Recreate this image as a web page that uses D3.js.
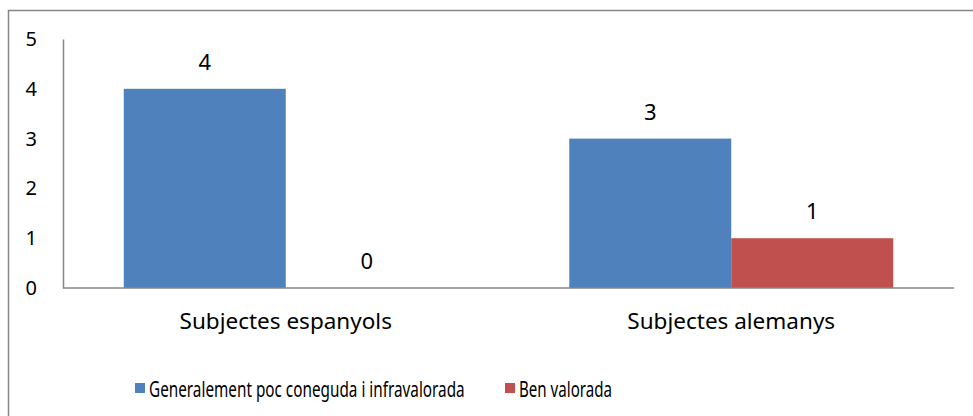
<!DOCTYPE html>
<html>
<head>
<meta charset="utf-8">
<script src="https://cdn.jsdelivr.net/npm/d3@7"></script>
<style>
  body { margin: 0; background: #fff; }
  text { font-family: "Noto Sans", "Open Sans", sans-serif; fill: #000; }
</style>
</head>
<body>
<svg id="chart"></svg>
<script>
const categories = ['Subjectes espanyols', 'Subjectes alemanys'];
const seriesNames = ['Generalement poc coneguda i infravalorada', 'Ben valorada'];
const poc = [4, 3];
const ben = [0, 1];
const yTicks = [0, 1, 2, 3, 4, 5];
const colors = ['#4f81bd', '#c0504d'];

const width = 973, height = 416;
const margin = {top: 39, right: 19, bottom: 128, left: 63};

const svg = d3.select('#chart')
    .attr('width', width)
    .attr('height', height);

// outer frame (runs off the right and bottom edge)
svg.append('rect')
    .attr('x', 8.5).attr('y', 10.5)
    .attr('width', 990).attr('height', 440)
    .attr('fill', 'none')
    .attr('stroke', '#868686')
    .attr('stroke-width', 1.5);

const x0 = d3.scaleBand()
    .domain(categories)
    .range([margin.left, width - margin.right])
    .paddingInner(0.2727)
    .paddingOuter(0.1364);

const x1 = d3.scaleBand()
    .domain(seriesNames)
    .range([0, x0.bandwidth()]);

const y = d3.scaleLinear()
    .domain([0, 5])
    .range([height - margin.bottom, margin.top]);

const rows = categories.map((c, i) => ({cat: c, vals: [poc[i], ben[i]]}));

const groups = svg.append('g').selectAll('g')
    .data(rows)
    .join('g')
    .attr('transform', d => `translate(${x0(d.cat)},0)`);

groups.selectAll('rect')
    .data(d => d.vals.map((v, j) => ({name: seriesNames[j], v: v, j: j})))
    .join('rect')
    .attr('x', d => x1(d.name))
    .attr('y', d => y(d.v))
    .attr('width', x1.bandwidth())
    .attr('height', d => y(0) - y(d.v))
    .attr('fill', d => colors[d.j]);

// value labels
groups.selectAll('text.lbl')
    .data(d => d.vals.map((v, j) => ({name: seriesNames[j], v: v})))
    .join('text')
    .attr('class', 'lbl')
    .attr('x', d => x1(d.name) + x1.bandwidth() / 2)
    .attr('y', d => y(d.v) - 19)
    .attr('text-anchor', 'middle')
    .style('font-size', '22px')
    .text(d => d.v);

// y axis
const yAxis = d3.axisLeft(y)
    .tickValues(yTicks)
    .tickFormat(d3.format('d'))
    .tickSize(0)
    .tickPadding(26);
const yAxisG = svg.append('g')
    .attr('transform', `translate(${margin.left},0)`)
    .call(yAxis);
yAxisG.select('.domain').attr('stroke', '#868686').attr('stroke-width', 1.5);
yAxisG.selectAll('text')
    .attr('fill', '#000')
    .style('font-size', '20px')
    .style('font-family', '"Noto Sans", sans-serif');

// x axis
const xAxis = d3.axisBottom(x0)
    .tickSize(0)
    .tickSizeOuter(0)
    .tickPadding(25);
const xAxisG = svg.append('g')
    .attr('transform', `translate(0,${y(0)})`)
    .call(xAxis);
xAxisG.select('.domain')
    .attr('d', `M${margin.left},0H${width - margin.right}`)
    .attr('stroke', '#868686').attr('stroke-width', 1.5);
xAxisG.selectAll('text')
    .attr('fill', '#000')
    .style('font-size', '22.5px')
    .style('font-family', '"Noto Sans", sans-serif');

// legend - text squeezed horizontally like the original
const legendX = [135, 505];
const legendLen = [316, 93];
const legend = svg.append('g').selectAll('g')
    .data(seriesNames)
    .join('g')
    .attr('transform', (d, i) => `translate(${legendX[i]},383)`);
legend.append('rect')
    .attr('width', 10).attr('height', 10)
    .attr('fill', (d, i) => colors[i]);
legend.append('text')
    .style('font-size', '21px')
    .text(d => d)
    .attr('transform', function(d, i) {
        const k = legendLen[i] / this.getComputedTextLength();
        return `translate(14,14) scale(${k},1)`;
    });
</script>
</body>
</html>
